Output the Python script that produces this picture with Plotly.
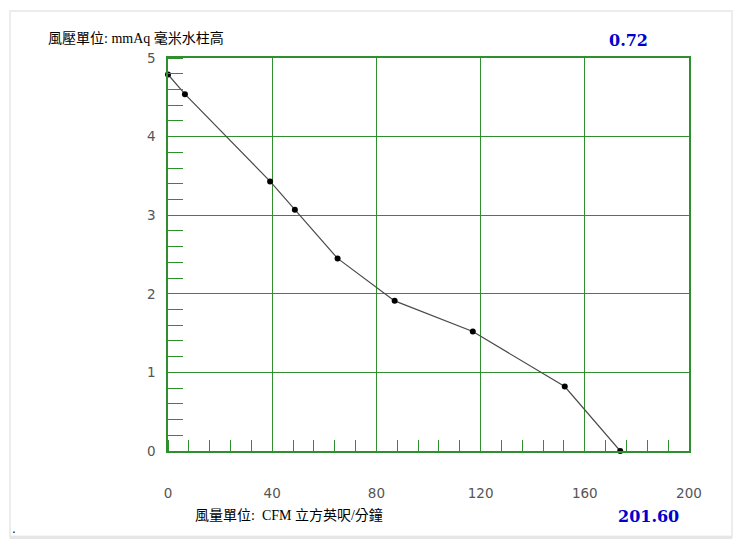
import plotly.graph_objects as go

# fan curve: airflow (CFM) vs static pressure (mmAq)
cfm = [0, 6.5, 39.2, 48.7, 65.1, 87.0, 117.0, 152.3, 173.6]
pressure = [4.79, 4.54, 3.43, 3.07, 2.45, 1.91, 1.52, 0.82, 0.0]

x_ticks = [0, 40, 80, 120, 160, 200]
y_ticks = [0, 1, 2, 3, 4, 5]

title_y = "風壓單位: mmAq 毫米水柱高"
title_x = "風量單位:  CFM 立方英呎/分鐘"
max_pressure = "0.72"
max_flow = "201.60"

GREEN = "#2f8f2f"
OFF = 8  # page body margin
W, H = 748 - OFF, 557 - OFF
# plot area in page pixels: x 168..689, y 58..451.5
L, R, T, B = 168 - OFF, W - (689 - OFF), 58 - OFF, H - (451.5 - OFF)


def px(x):
    return (x - OFF - L) / (W - L - R)


def py(y):
    return (H - B - (y - OFF)) / (H - T - B)


fig = go.Figure()
fig.add_trace(go.Scatter(x=cfm, y=pressure, mode='lines+markers',
                         line=dict(color='#4a4a4a', width=1.2),
                         marker=dict(color='black', size=6),
                         cliponaxis=False, showlegend=False))

axis_common = dict(showgrid=True, gridcolor=GREEN, gridwidth=1.3,
                   showline=True, linecolor=GREEN, linewidth=1.5, mirror=True,
                   zeroline=False, ticks='',
                   tickfont=dict(family='DejaVu Sans', size=13.5, color='#555555'))

fig.update_xaxes(range=[0, 200], tickvals=x_ticks, ticklabelstandoff=29,
                 minor=dict(dtick=8, tick0=0, ticks='inside', ticklen=11,
                            tickcolor=GREEN, tickwidth=1.3, showgrid=False),
                 **axis_common)
fig.update_yaxes(range=[0, 5], tickvals=y_ticks, ticklabelstandoff=8,
                 minor=dict(dtick=0.2, tick0=0, ticks='inside', ticklen=15,
                            tickcolor=GREEN, tickwidth=1.3, showgrid=False),
                 **axis_common)

text_font = dict(family='Liberation Serif, Noto Sans CJK TC', size=14, color='black')
num_font = dict(family='DejaVu Serif', size=16, color='#0000cc')

annotations = [
    dict(text=title_y, x=px(46), y=py(38), xanchor='left', yanchor='middle', font=text_font),
    dict(text='<b>' + max_pressure + '</b>', x=px(607), y=py(40), xanchor='left', yanchor='middle', font=num_font),
    dict(text=title_x, x=px(193), y=py(516), xanchor='left', yanchor='middle', font=text_font),
    dict(text='<b>' + max_flow + '</b>', x=px(616), y=py(517), xanchor='left', yanchor='middle', font=num_font),
    dict(text='.', x=px(10), y=py(530), xanchor='left', yanchor='middle',
         font=dict(family='DejaVu Sans', size=12, color='black')),
]
for a in annotations:
    a.update(xref='paper', yref='paper', showarrow=False)

fig.update_layout(
    width=W, height=H,
    margin=dict(l=L, r=R, t=T, b=B),
    paper_bgcolor='white', plot_bgcolor='white',
    annotations=annotations,
    shapes=[
        dict(type='rect', xref='paper', yref='paper', layer='below',
             x0=px(10), x1=px(732), y0=py(537), y1=py(11),
             line=dict(color='#ececec', width=2)),
        dict(type='line', xref='paper', yref='paper',
             x0=px(10), x1=px(732), y0=py(538), y1=py(538),
             line=dict(color='#e6e6e6', width=3)),
    ],
)

fig.write_html("out.html")
